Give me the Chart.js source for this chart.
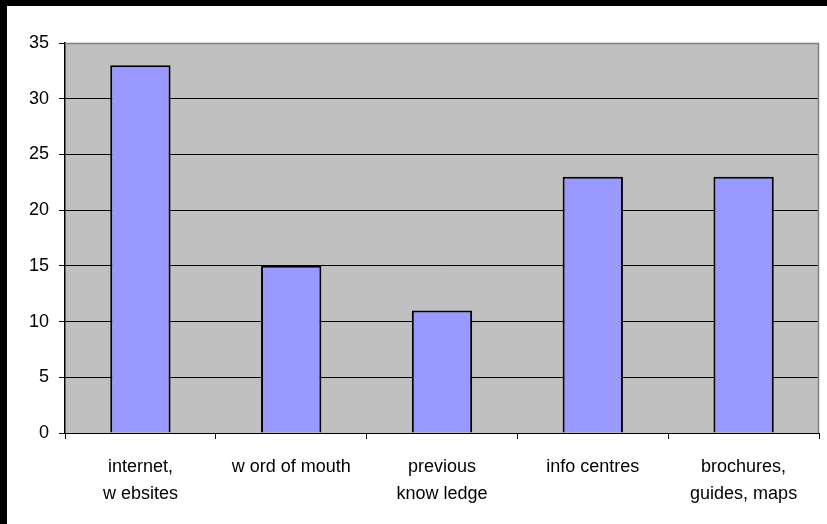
<!DOCTYPE html>
<html>
<head>
<meta charset="utf-8">
<script src="https://cdn.jsdelivr.net/npm/chart.js@4"></script>
<style>
  html, body { margin: 0; padding: 0; background: #fff; }
  canvas { display: block; }
</style>
</head>
<body>
<canvas id="c" width="827" height="524"></canvas>
<script>
const categories = [
  ['internet,', 'w ebsites'],
  'w ord of mouth',
  ['previous', 'know ledge'],
  'info centres',
  ['brochures,', 'guides, maps']
];
const values = [33, 15, 11, 23, 23];
const yMin = 0, yMax = 35, yStep = 5;

const framePlugin = {
  id: 'frame',
  beforeDraw(chart) {
    const ctx = chart.ctx;
    const a = chart.chartArea;
    ctx.save();
    ctx.fillStyle = '#ffffff';
    ctx.fillRect(0, 0, chart.width, chart.height);
    ctx.fillStyle = '#000000';
    ctx.fillRect(0, 0, chart.width, 6);
    ctx.fillRect(0, 0, 7, chart.height);
    ctx.fillStyle = '#c0c0c0';
    ctx.fillRect(a.left, a.top, a.right - a.left, a.bottom - a.top);
    ctx.restore();
  },
  afterDatasetsDraw(chart) {
    const ctx = chart.ctx;
    const a = chart.chartArea;
    ctx.save();
    ctx.strokeStyle = '#808080';
    ctx.lineWidth = 1.5;
    ctx.beginPath();
    ctx.moveTo(a.left, a.top + 0.5);
    ctx.lineTo(a.right - 0.5, a.top + 0.5);
    ctx.lineTo(a.right - 0.5, a.bottom);
    ctx.stroke();
    ctx.restore();
  }
};

new Chart(document.getElementById('c'), {
  type: 'bar',
  data: {
    labels: categories,
    datasets: [{
      data: values,
      backgroundColor: '#9999ff',
      borderColor: '#000000',
      borderWidth: 2,
      barPercentage: 0.4,
      categoryPercentage: 1.0
    }]
  },
  options: {
    responsive: false,
    devicePixelRatio: 1,
    animation: false,
    layout: { padding: { top: 43, right: 8, left: 0, bottom: 0 } },
    plugins: { legend: { display: false }, tooltip: { enabled: false } },
    scales: {
      x: {
        afterFit(s) { s.height = 91; },
        grid: { offset: true, drawOnChartArea: false, color: '#000000', tickLength: 6, lineWidth: 1 },
        border: { display: true, color: '#000000', width: 1 },
        ticks: {
          color: '#000000',
          padding: 15,
          maxRotation: 0,
          autoSkip: false,
          font: { family: '"Liberation Sans", Arial, sans-serif', size: 18, lineHeight: 1.5 }
        }
      },
      y: {
        min: yMin, max: yMax,
        afterFit(s) { s.width = 65; },
        grid: { color: '#000000', tickLength: 6, lineWidth: 1 },
        border: { display: true, color: '#000000', width: 1.5 },
        ticks: {
          stepSize: yStep,
          color: '#000000',
          padding: 10,
          font: { family: '"Liberation Sans", Arial, sans-serif', size: 18 }
        }
      }
    }
  },
  plugins: [framePlugin]
});
</script>
</body>
</html>
